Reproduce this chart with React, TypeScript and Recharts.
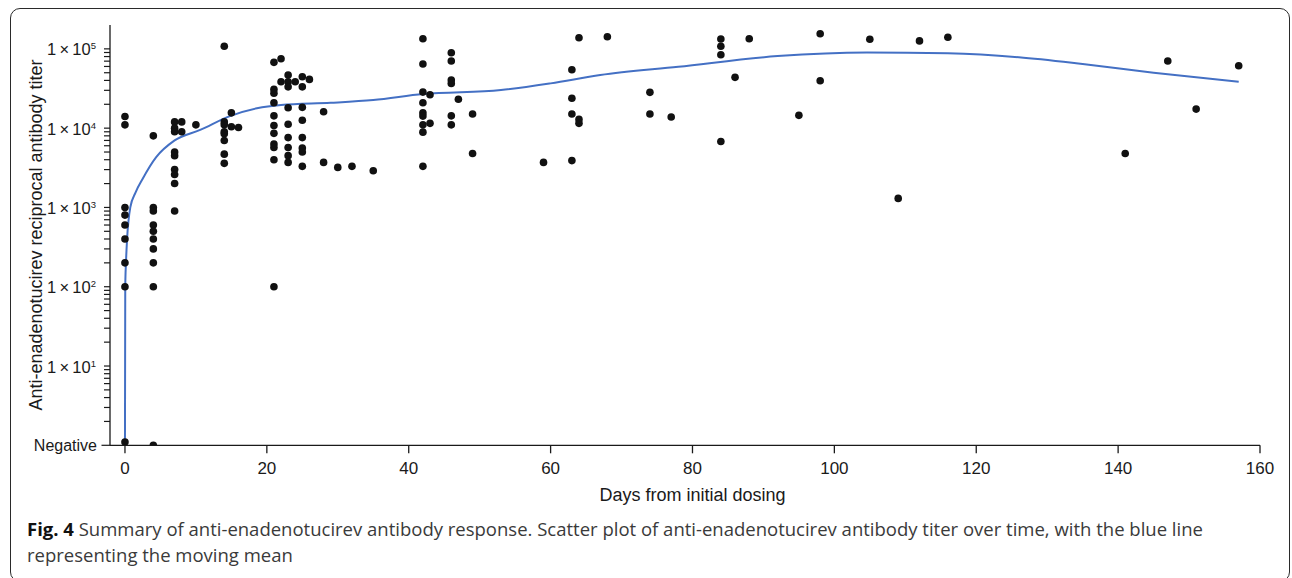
import React from 'react';
import { ComposedChart, Scatter, Line, XAxis, YAxis } from 'recharts';

// Sampling days (days from initial dosing) and the titers measured on each day
const visitDays = [0, 4, 7, 8, 10, 14, 15, 16, 21, 22, 23, 24, 25, 26, 28, 30, 32, 35, 42, 43, 46, 47, 49, 59, 63, 64, 68, 74, 77, 84, 86, 88, 95, 98, 105, 109, 112, 116, 141, 147, 151, 157];
const titersByVisit = [
  [14000, 11000, 1000, 800, 600, 400, 200, 100, 1.1],
  [8000, 1000, 900, 600, 500, 400, 300, 200, 100, 1],
  [12000, 10000, 9000, 5000, 4500, 3000, 2600, 2000, 900],
  [12000, 9000],
  [11000],
  [108000, 12000, 11000, 9000, 8500, 7000, 4700, 3600],
  [15600, 10400],
  [10200],
  [67600, 30800, 27500, 20900, 14300, 10800, 8600, 6300, 5700, 4000, 100],
  [75000, 38400],
  [46800, 38400, 33200, 18100, 11200, 7600, 5700, 4500, 3700],
  [38500],
  [44500, 33200, 18300, 12600, 7600, 5600, 5000, 3300],
  [41200],
  [16100, 3700],
  [3200],
  [3300],
  [2900],
  [134000, 64300, 28500, 20900, 15600, 14200, 11000, 8900, 3300],
  [26400, 11500],
  [89300, 70200, 40400, 36700, 14300, 11000],
  [23100],
  [15100, 4800],
  [3700],
  [54500, 23800, 15100, 3900],
  [138000, 12900, 11500],
  [142000],
  [28300, 15100],
  [13800],
  [133000, 108000, 84300, 6800],
  [43700],
  [134000],
  [14500],
  [155000, 39600],
  [132000],
  [1300],
  [126000],
  [140000],
  [4800],
  [70200],
  [17400],
  [61200],
];

// Moving mean (blue line)
const meanDays = [0, 0.04, 0.14, 0.3, 0.75, 1.5, 2.5, 4.4, 7, 10.6, 14.8, 18.6, 22, 29, 35, 42, 53, 60, 67, 78, 92, 104.6, 116, 126, 135, 145, 157];
const meanTiters = [1.1, 100, 200, 400, 1000, 1550, 2300, 4300, 7000, 9500, 14200, 17800, 19600, 20900, 22600, 26900, 30200, 36700, 46700, 59500, 81100, 90200, 87800, 78200, 64300, 50000, 38400];

// Axis ticks
const xTicks = [0, 20, 40, 60, 80, 100, 120, 140, 160];
const yDecades = [1, 10, 100, 1000, 10000, 100000];
const yMinorMultipliers = [2, 3, 4, 5, 6, 7, 8, 9];

const samplePoints = visitDays.flatMap((d, i) => titersByVisit[i].map((t) => ({ x: d, y: t })));
const meanPoints = meanDays.map((d, i) => ({ x: d, y: meanTiters[i] }));
const yTicks = yDecades.flatMap((dec) =>
  dec === 100000 ? [dec] : [dec, ...yMinorMultipliers.map((m) => dec * m)]
);

const AXIS_COLOR = '#1a1a1a';
const FONT = '"Liberation Sans", Arial, Helvetica, sans-serif';
const Y_TICK_OFFSET = 14;

const YTick = (props: any) => {
  const { x, y, payload } = props;
  const v = payload.value as number;
  const axisX = x + Y_TICK_OFFSET;
  const lg = Math.log10(v);
  const exp = Math.round(lg);
  const isMajor = Math.abs(lg - exp) < 1e-6;
  const len = v === 1 ? 8.5 : 6;
  return (
    <g>
      <line x1={axisX - len} x2={axisX} y1={y} y2={y} stroke={AXIS_COLOR} strokeWidth={1.2} />
      {isMajor && v === 1 && (
        <text x={x + 1} y={y + 5.5} textAnchor="end" fontSize={16} fill={AXIS_COLOR} fontFamily={FONT}>
          Negative
        </text>
      )}
      {isMajor && v !== 1 && (
        <text x={x} y={y + 6.5} textAnchor="end" fontSize={16.5} fill={AXIS_COLOR} fontFamily={FONT}>
          {'1\u2009×\u200910'}
          <tspan dy={-6} fontSize={9.5}>{exp}</tspan>
        </text>
      )}
    </g>
  );
};

const Dot = (props: any) => <circle cx={props.cx} cy={props.cy} r={3.8} fill="#111" />;

export default function App() {
  return (
    <div style={{ position: 'absolute', left: 0, top: 0, width: 1292, height: 578, background: '#fff', overflow: 'hidden' }}>
      <div
        style={{
          position: 'absolute',
          left: 10,
          top: 8,
          width: 1280,
          height: 574,
          border: '1.5px solid #2a2a2a',
          borderRadius: 10,
          boxSizing: 'border-box',
        }}
      />
      <div style={{ position: 'absolute', left: 0, top: 0 }}>
        <ComposedChart
          width={1292}
          height={510}
          margin={{ top: 25, right: 32, left: 10, bottom: 34.7 }}
        >
          <XAxis
            type="number"
            dataKey="x"
            domain={[-2.11, 160]}
            ticks={xTicks}
            allowDataOverflow
            height={30}
            tickSize={8}
            tickMargin={9}
            interval={0}
            axisLine={{ stroke: AXIS_COLOR, strokeWidth: 1.3 }}
            tickLine={{ stroke: AXIS_COLOR, strokeWidth: 1.3 }}
            tick={{ fill: AXIS_COLOR, fontSize: 17, fontFamily: FONT }}
            label={{
              content: () => (
                <text x={692.5} y={501} textAnchor="middle" fontSize={18} fill={AXIS_COLOR} fontFamily={FONT}>
                  Days from initial dosing
                </text>
              ),
            }}
          />
          <YAxis
            type="number"
            dataKey="y"
            scale="log"
            domain={[1, 200000]}
            ticks={yTicks}
            allowDataOverflow
            width={100}
            interval={0}
            tickSize={0}
            tickMargin={Y_TICK_OFFSET}
            tickLine={false}
            axisLine={{ stroke: AXIS_COLOR, strokeWidth: 1.3 }}
            tick={<YTick />}
            label={{
              content: () => (
                <text
                  x={36}
                  y={235}
                  transform="rotate(-90 36 235)"
                  textAnchor="middle"
                  dominantBaseline="central"
                  fontSize={18}
                  fill={AXIS_COLOR}
                  fontFamily={FONT}
                >
                  Anti-enadenotucirev reciprocal antibody titer
                </text>
              ),
            }}
          />
          <Scatter data={samplePoints} shape={<Dot />} isAnimationActive={false} />
          <Line
            data={meanPoints}
            dataKey="y"
            type="monotoneX"
            stroke="#4470c4"
            strokeWidth={2}
            dot={false}
            activeDot={false}
            isAnimationActive={false}
          />
        </ComposedChart>
      </div>
      <div
        style={{
          position: 'absolute',
          left: 27,
          top: 516,
          fontFamily: '"Open Sans", "Noto Sans", sans-serif',
          fontSize: 18.5,
          lineHeight: '26px',
          color: '#3a3a3a',
          whiteSpace: 'nowrap',
        }}
      >
        <b style={{ color: '#111' }}>Fig. 4</b> Summary of anti-enadenotucirev antibody response. Scatter plot of
        anti-enadenotucirev antibody titer over time, with the blue line
        <br />
        representing the moving mean
      </div>
    </div>
  );
}
